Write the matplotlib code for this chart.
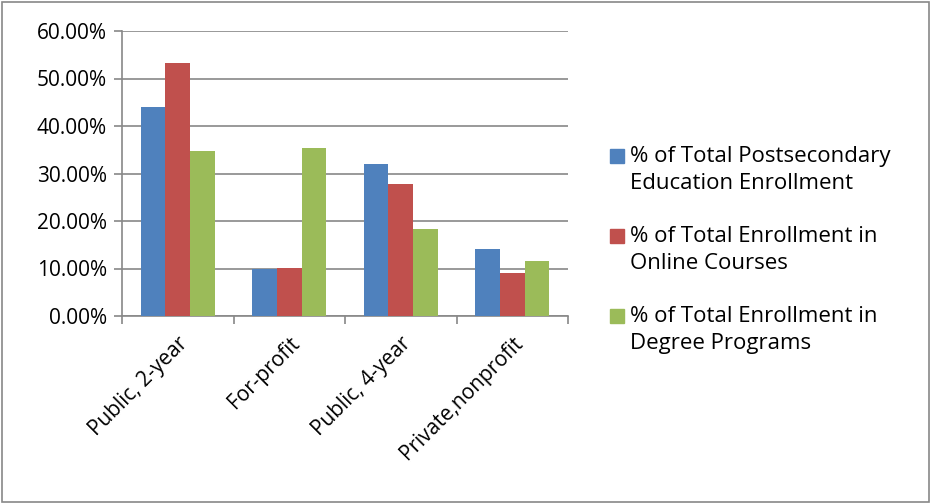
import numpy as np
import matplotlib
matplotlib.use("Agg")
import matplotlib.pyplot as plt
from matplotlib.ticker import FuncFormatter

categories = ["Public, 2-year", "For-profit", "Public, 4-year", "Private,nonprofit"]
postsecondary = [43.9, 10.0, 32.1, 14.1]
online = [53.2, 10.2, 27.8, 9.0]
degree = [34.7, 35.3, 18.4, 11.6]
series_names = ["% of Total Postsecondary\nEducation Enrollment",
                "% of Total Enrollment in\nOnline Courses",
                "% of Total Enrollment in\nDegree Programs"]
colors = ["#4F81BD", "#C0504D", "#9BBB59"]

plt.rcParams['font.family'] = ['Open Sans', 'DejaVu Sans']
fs = 15

fig = plt.figure(figsize=(9.32, 5.04), dpi=100)
ax = fig.add_axes([122/932, 1-316/504, (568-122)/932, (316-31)/504])

x = np.arange(len(categories))
w = 0.22
for i, vals in enumerate([postsecondary, online, degree]):
    ax.bar(x + (i-1)*w, vals, w, color=colors[i], label=series_names[i], zorder=3)

ax.set_ylim(0, 60)
ax.set_xlim(-0.5, len(categories)-0.5)
ax.set_yticks(np.arange(0, 61, 10))
ax.yaxis.set_major_formatter(FuncFormatter(lambda v, p: "%.2f%%" % v))
ax.grid(axis='y', color='#888888', linewidth=1.2, zorder=0)

ax.set_xticks(x)
ax.set_xticklabels(categories, rotation=45, ha='right', rotation_mode='anchor', fontsize=fs)
ax.tick_params(axis='x', length=0, pad=12)
ax.set_xticks(np.arange(-0.5, len(categories)), minor=True)
ax.tick_params(axis='x', which='minor', length=6, color='#888888', width=1.2)
ax.tick_params(axis='y', length=6, color='#888888', width=1.2, labelsize=fs, pad=5)

for s in ['top', 'right']:
    ax.spines[s].set_visible(False)
for s in ['left', 'bottom']:
    ax.spines[s].set_color('#888888')
    ax.spines[s].set_linewidth(1.2)

# legend drawn by hand so the square sits on the first text line
W, H = 932, 504
for i, name in enumerate(series_names):
    ytop = 149 + i * 80
    fig.patches.append(plt.Rectangle((610/W, 1-(ytop+14)/H), 14/W, 14/H,
                                     transform=fig.transFigure, color=colors[i]))
    fig.text(630/W, 1-(ytop-3)/H, name, fontsize=16, va='top', ha='left',
             linespacing=1.35)

fig.patches.append(plt.Rectangle((0.002, 0.003), 0.995, 0.993, transform=fig.transFigure,
                                 fill=False, edgecolor='#888888', linewidth=1.2))

fig.savefig("out.png", dpi=100)
